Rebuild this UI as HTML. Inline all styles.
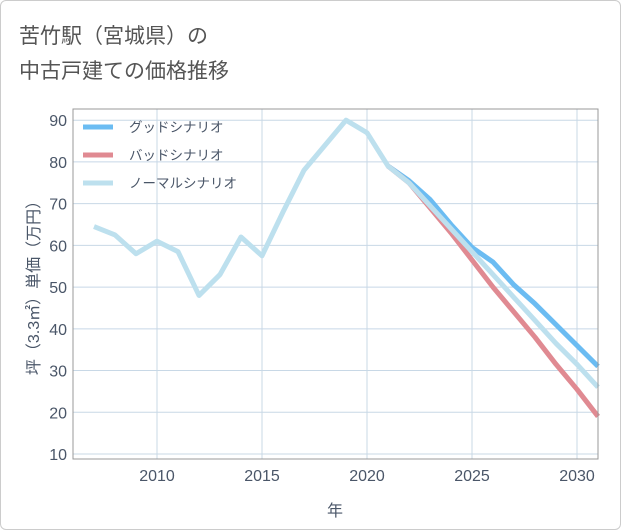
<!DOCTYPE html>
<html><head><meta charset="utf-8"><style>
body{margin:0;background:#fff;font-family:"Liberation Sans","Noto Sans CJK JP",sans-serif;}
#wrap{position:relative;width:619px;height:528px;border:1px solid #ccc;border-radius:6px;overflow:hidden;}
svg text{font-family:"Liberation Sans","Noto Sans CJK JP",sans-serif;}
</style></head><body>
<div id="wrap">
<svg id="chart" width="621" height="530">
<text x="18" y="42" font-size="21" fill="#555">苦竹駅（宮城県）の</text>
<text x="18" y="77" font-size="21" fill="#555">中古戸建ての価格推移</text>
<g id="grid"></g><g id="lines"></g><g id="axes"></g>
<g>
<line x1="82" y1="126" x2="112" y2="126" stroke="#6bbcf2" stroke-width="5"/>
<text x="128" y="131" font-size="13.5" fill="#4a5668">グッドシナリオ</text>
<line x1="82" y1="154" x2="112" y2="154" stroke="#e08a92" stroke-width="5"/>
<text x="128" y="159" font-size="13.5" fill="#4a5668">バッドシナリオ</text>
<line x1="82" y1="182" x2="112" y2="182" stroke="#bde0ee" stroke-width="5"/>
<text x="128" y="187" font-size="13.5" fill="#4a5668">ノーマルシナリオ</text>
</g>
<text x="334" y="515" font-size="16" fill="#4a5668" text-anchor="middle">年</text>
<text transform="translate(38,283) rotate(-90)" font-size="16" fill="#4a5668" text-anchor="middle">坪（3.3㎡）単価（万円）</text>
</svg></div>
<script>
const yearsNormal=[2007,2008,2009,2010,2011,2012,2013,2014,2015,2016,2017,2018,2019,2020,2021,2022,2023,2024,2025,2026,2027,2028,2029,2030,2031];
const normalValues=[64.5,62.5,58,61,58.5,48,53,62,57.5,68,78,84,90,87,79,75,69.5,64,58.5,53,47.5,42,36.5,31.5,26];
const yearsForecast=[2021,2022,2023,2024,2025,2026,2027,2028,2029,2030,2031];
const goodValues=[79,75.5,71,65,59.5,56,50.5,46,41,36,31];
const badValues=[79,75,69,63,56.5,50,44,38,31.5,25.5,19];
const yTicks=[10,20,30,40,50,60,70,80,90];
const xTicks=[2010,2015,2020,2025,2030];
const NS="http://www.w3.org/2000/svg";
const L=72,R=597,T=108,B=458;
function xs(y){return 156+(y-2010)*21;}
function ys(v){return 453-(v-10)*4.1725;}
const grid=document.getElementById('grid'),lines=document.getElementById('lines'),axes=document.getElementById('axes');
function mk(tag,attrs,parent){const e=document.createElementNS(NS,tag);for(const k in attrs)e.setAttribute(k,attrs[k]);parent.appendChild(e);return e;}
yTicks.forEach(v=>{
  const g=mk('line',{x1:L,x2:R,y1:ys(v),y2:ys(v),stroke:'#c8d8e6','stroke-width':1},grid);
  
  
  const t=mk('text',{x:66,y:ys(v)+6,'font-size':16,fill:'#4a5668','text-anchor':'end'},axes);
  t.textContent=v;
  
  
});
xTicks.forEach(v=>{
  const g=mk('line',{x1:xs(v),x2:xs(v),y1:T,y2:B,stroke:'#c8d8e6','stroke-width':1},grid);
  
  
  const t=mk('text',{x:xs(v),y:480,'font-size':16,fill:'#4a5668','text-anchor':'middle'},axes);
  t.textContent=v;
  
  
});
const frame=mk('rect',{x:L,y:T,width:R-L,height:B-T,fill:'none',stroke:'#999','stroke-width':1},axes);


function line(xsArr,vals,color,name){
  const d=xsArr.map((y,i)=>(i?'L':'M')+xs(y)+','+ys(vals[i])).join(' ');
  const p=mk('path',{d:d,fill:'none',stroke:color,'stroke-width':5,'stroke-linejoin':'round'},lines);
  
  
}
line(yearsForecast,goodValues,'#6bbcf2','good-scenario-line');
line(yearsForecast,badValues,'#e08a92','bad-scenario-line');
line(yearsNormal,normalValues,'#bde0ee','normal-scenario-line');
</script>
</body></html>
